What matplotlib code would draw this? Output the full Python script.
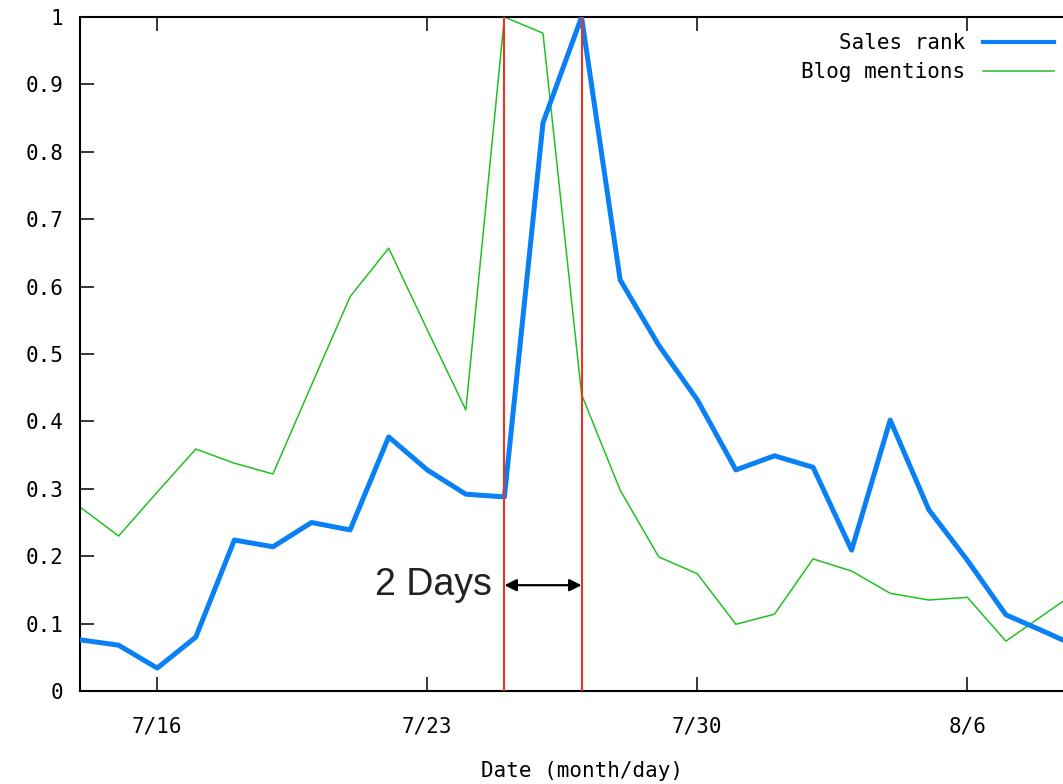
import numpy as np
import matplotlib
matplotlib.use("Agg")
import matplotlib.pyplot as plt
import matplotlib.dates as mdates

# daily points, 7/14 .. 8/9
dates = np.arange("2007-07-14", "2007-08-10", dtype="datetime64[D]")

sales_rank = [0.076, 0.068, 0.034, 0.080, 0.224, 0.214, 0.250, 0.239, 0.377,
              0.328, 0.292, 0.288, 0.843, 1.000, 0.610, 0.513, 0.432, 0.328,
              0.349, 0.332, 0.209, 0.402, 0.269, 0.194, 0.113, 0.088, 0.062]
blog_mentions = [0.273, 0.230, 0.295, 0.359, 0.338, 0.322, 0.454, 0.585, 0.657,
                 0.536, 0.417, 1.000, 0.976, 0.440, 0.298, 0.199, 0.174, 0.099,
                 0.114, 0.196, 0.178, 0.145, 0.135, 0.139, 0.074, 0.114, 0.154]

tick_dates = np.array(["2007-07-16", "2007-07-23", "2007-07-30", "2007-08-06"], dtype="datetime64[D]")
tick_labels = ["7/16", "7/23", "7/30", "8/6"]
y_ticks = [0, 0.1, 0.2, 0.3, 0.4, 0.5, 0.6, 0.7, 0.8, 0.9, 1]

lag_start = np.datetime64("2007-07-25")
lag_end = np.datetime64("2007-07-27")
lag_label = "2 Days"
lag_y = 0.157

mono = "DejaVu Sans Mono"
fs = 15

fig = plt.figure(figsize=(10.63, 7.84), dpi=100)
# axes run past the right edge of the figure (cropped like the original)
ax = fig.add_axes([0.0753, 0.1186, 0.9436, 0.8597])

ax.plot(dates, sales_rank, color="#0a80f5", lw=3.6, label="Sales rank", zorder=3)
ax.plot(dates, blog_mentions, color="#22c022", lw=1.1, label="Blog mentions", zorder=2)

for d in (lag_start, lag_end):
    ax.axvline(d, color="#f03020", lw=1.5, zorder=4)

ax.annotate("", xy=(lag_start, lag_y), xytext=(lag_end, lag_y),
            arrowprops=dict(arrowstyle="<|-|>", color="black", lw=1.6,
                            mutation_scale=18, shrinkA=0, shrinkB=0), zorder=5)
ax.text(lag_start - np.timedelta64(8, "h"), lag_y, lag_label, ha="right", va="center",
        fontsize=27, family="Liberation Sans", color="#222222")

ax.set_xlim(dates[0], dates[-1])
ax.set_ylim(0, 1)
ax.set_xticks(mdates.date2num(tick_dates))
ax.set_xticklabels(tick_labels, family=mono, fontsize=fs)
ax.set_yticks(y_ticks)
ax.set_yticklabels([f"{v:g}" for v in y_ticks], family=mono, fontsize=fs)
ax.tick_params(axis="both", direction="in", length=10, width=1.1, top=True, right=True)
ax.tick_params(axis="x", pad=18)
ax.tick_params(axis="y", pad=12)
for s in ax.spines.values():
    s.set_linewidth(1.5)

ax.set_xlabel("Date (month/day)", family=mono, fontsize=fs, labelpad=18)

leg = ax.legend(loc="upper right", bbox_to_anchor=(1078 / 1063, 1 - 9 / 784), bbox_transform=fig.transFigure,
                markerfirst=False, frameon=False, prop={"family": mono, "size": fs},
                handlelength=3.4, handletextpad=0.85, labelspacing=0.45, borderaxespad=0.75)
leg.get_lines()[0].set_linewidth(3.0)

fig.savefig("out.png", dpi=100)
